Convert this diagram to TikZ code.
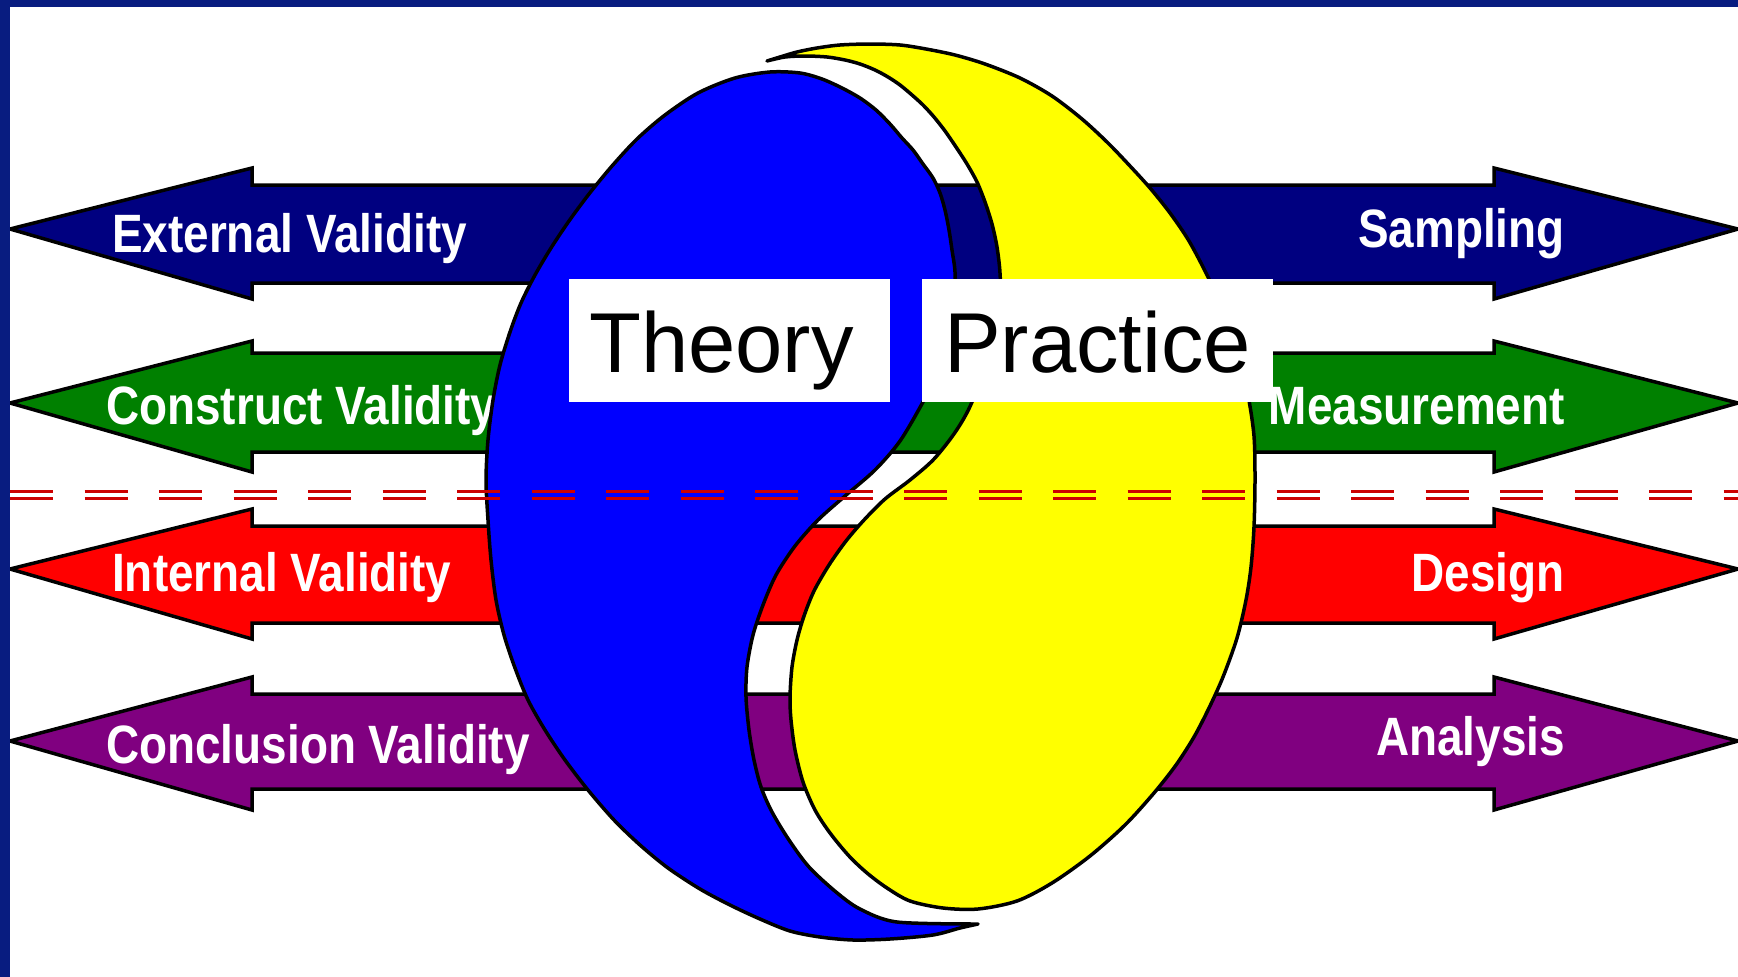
\documentclass[tikz,border=0pt]{standalone}
\usepackage{fontspec}
\newfontfamily\labelfont{Liberation Sans}[FakeStretch=0.85]
\newfontfamily\boxfont{Liberation Sans}
\definecolor{frameblue}{RGB}{8,28,128}
\definecolor{rownavy}{RGB}{0,0,128}
\definecolor{rowgreen}{RGB}{0,128,0}
\definecolor{rowred}{RGB}{255,0,0}
\definecolor{rowpurple}{RGB}{128,0,128}
\definecolor{theoryblue}{RGB}{0,0,255}
\definecolor{practiceyellow}{RGB}{255,255,0}
\definecolor{dashred}{RGB}{204,0,0}
\begin{document}
\begin{tikzpicture}[x=1pt,y=-1pt,
  rowarrow/.style={draw=black, line width=3.5pt, line join=miter},
  lefttext/.style={anchor=base west, text=white, inner sep=0pt,
    font=\labelfont\bfseries\fontsize{54}{60}\selectfont},
  righttext/.style={anchor=base east, text=white, inner sep=0pt,
    font=\labelfont\bfseries\fontsize{54}{60}\selectfont},
  yinyang/.style={draw=black, line width=3.5pt, line join=round},
  labelbox/.style={fill=white},
  boxtext/.style={anchor=base west, inner sep=0pt, text=black,
    font=\boxfont\fontsize{85}{95}\selectfont},
  dashline/.style={draw=dashred, line width=3pt, dash pattern=on 43pt off 31.5pt},
  framestrip/.style={fill=frameblue}]
\useasboundingbox (0,0) rectangle (1738,977);
\fill[white] (0,0) rectangle (1738,977);

% ---- double-headed arrows (one per row)
\filldraw[rowarrow, fill=rownavy] (10,229) -- (252,168) -- (252,185) -- (1494,185) -- (1494,168) -- (1738,229) -- (1494,299) -- (1494,283) -- (252,283) -- (252,299) -- cycle;
\filldraw[rowarrow, fill=rowgreen] (10,403) -- (252,341) -- (252,353) -- (1494,353) -- (1494,341) -- (1738,403) -- (1494,472) -- (1494,452) -- (252,452) -- (252,472) -- cycle;
\filldraw[rowarrow, fill=rowred] (10,569) -- (252,509) -- (252,526) -- (1494,526) -- (1494,509) -- (1738,569) -- (1494,639) -- (1494,623) -- (252,623) -- (252,639) -- cycle;
\filldraw[rowarrow, fill=rowpurple] (10,741) -- (252,677) -- (252,694) -- (1494,694) -- (1494,677) -- (1738,741) -- (1494,810) -- (1494,789) -- (252,789) -- (252,810) -- cycle;

% ---- arrow labels
\node[lefttext] (extval) at (112,252) {External Validity};
\node[lefttext] (conval) at (106,424) {Construct Validity};
\node[lefttext] (intval) at (112,591) {Internal Validity};
\node[lefttext] (cncval) at (106,763) {Conclusion Validity};
\node[righttext] (sampling) at (1565,247) {Sampling};
\node[righttext] (measure) at (1565,424) {Measurement};
\node[righttext] (design) at (1565,591) {Design};
\node[righttext] (analysis) at (1565,755) {Analysis};

% ---- blue (theory) shape
\filldraw[yinyang, fill=theoryblue] plot[smooth, tension=0.5] coordinates {
 (978,924) (960,928) (933,935) (890,939) (853,940) (820,937) (790,931)
 (760,919) (730,905) (700,889) (668,868) (640,845) (614,820) (588,790)
 (565,760) (545,730) (528,700) (515,668) (504,635) (496,600) (491,560)
 (488,520) (486,480) (488,440) (493,400) (500,365) (510,332) (521,303)
 (535,275) (551,248) (569,221) (589,194) (612,166) (637,139) (665,115)
 (698,93) (735,78) (770,72) (800,73) (822,79) (842,88) (860,98)
 (876,110) (890,124) (902,138) (913,150) (923,164) (933,178)
 (940,193) (945,210) (949,230) (952,250) (955,272) (954,300) (950,330)
 (941,367) (923,402) (900,441) (875,470) (845,496) (818,520) (795,546)
 (776,575) (763,605) (753,635) (747,667) (746,697) (749,730) (754,760)
 (761,787) (772,812) (789,840) (809,867) (836,892) (860,909) (897,922)
 (978,924)} -- cycle;

% ---- yellow (practice) shape
\filldraw[yinyang, fill=practiceyellow] plot[smooth, tension=0.5] coordinates {
 (767,61) (780,57) (797,52) (817,48) (840,45) (870,44) (900,45) (926,49)
 (955,55) (985,64) (1020,78) (1052,96) (1082,119) (1108,143) (1130,166)
 (1150,188) (1170,213) (1189,241) (1208,277) (1225,315) (1238,352)
 (1248,395) (1254,436) (1255,480) (1254,527) (1251,567) (1246,600)
 (1237,638) (1223,677) (1209,708) (1194,737) (1176,765) (1154,793)
 (1125,825) (1090,856) (1052,883) (1017,901) (978,909) (943,908)
 (910,901) (887,888) (867,873) (849,856) (830,833) (815,810) (803,782)
 (795,750) (791,720) (790,697) (792,667) (797,640) (804,616) (814,591)
 (829,565) (846,541) (864,520) (885,499) (910,480) (934,459) (956,431)
 (972,402) (990,350) (1000,303) (1000,273) (997,247) (992,224) (985,202)
 (977,182) (967,164) (956,147) (945,131) (934,117) (923,105) (912,95)
 (900,85) (888,77) (875,70) (860,64) (845,60) (827,57) (805,56) (785,57)
 (767,61)} -- cycle;

% ---- label boxes
\path[labelbox] (569,279) rectangle (890,402);
\path[labelbox] (922,279) rectangle (1273,402);
\node[boxtext] (theory) at (589,372) {Theory};
\node[boxtext] (practice) at (944,372) {Practice};

% ---- dashed double line
\draw[dashline] (10,491.5) -- (1738,491.5);
\draw[dashline] (10,498.5) -- (1738,498.5);

% ---- frame strips
\path[framestrip] (0,0) rectangle (1738,7);
\path[framestrip] (0,0) rectangle (9.5,977);
\end{tikzpicture}
\end{document}
